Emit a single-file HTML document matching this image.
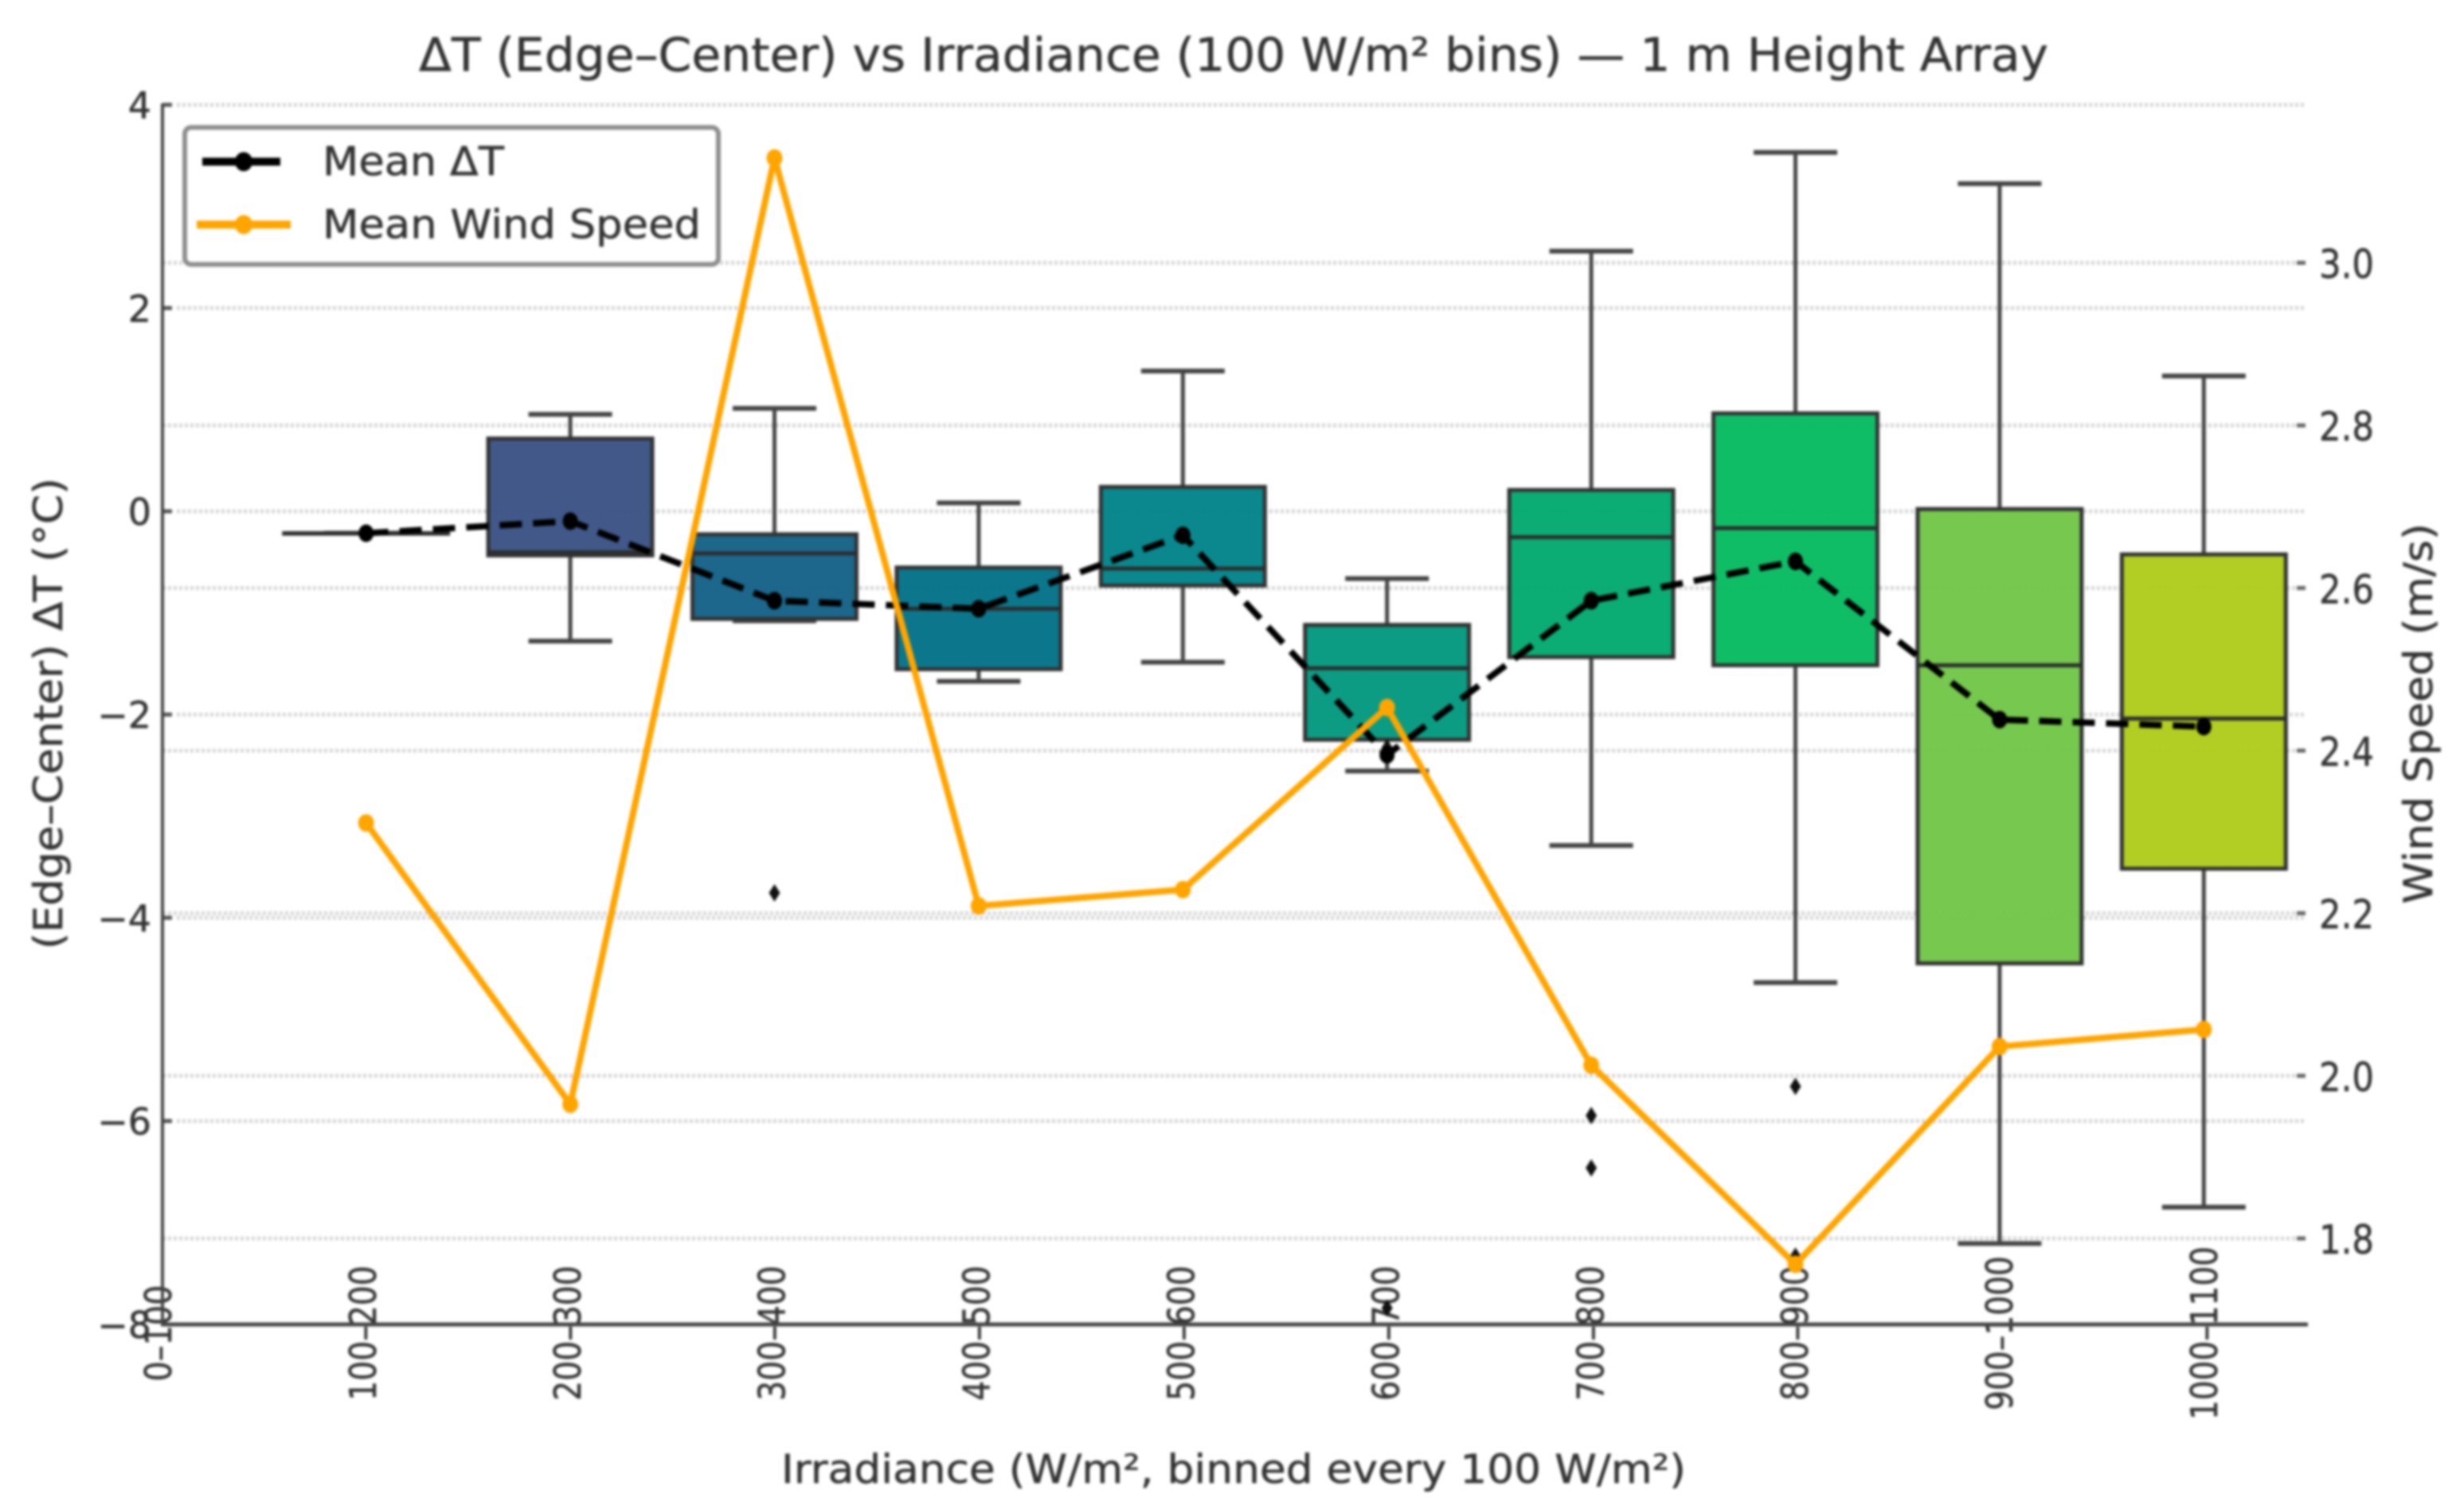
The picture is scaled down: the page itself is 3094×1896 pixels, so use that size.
<!DOCTYPE html>
<html lang="en">
<head>
<meta charset="utf-8">
<title>ΔT vs Irradiance box plot</title>
<style>
html,body{margin:0;padding:0;background:#fff;}
body{width:3094px;height:1896px;overflow:hidden;}
svg{display:block;filter:blur(1.5px);}
text{font-family:"DejaVu Sans","Liberation Sans",sans-serif;fill:#333;stroke:#333;stroke-width:0.5px;}
</style>
</head>
<body>
<svg id="chart" xmlns="http://www.w3.org/2000/svg" width="3094" height="1896" viewBox="0 0 3094 1896">
  <rect x="0" y="0" width="3094" height="1896" fill="#ffffff"/>
  <text x="526" y="89" font-size="58" textLength="2046" lengthAdjust="spacingAndGlyphs">ΔT (Edge–Center) vs Irradiance (100 W/m² bins) — 1 m Height Array</text>
  <text x="981" y="1862" font-size="50" textLength="1136" lengthAdjust="spacingAndGlyphs">Irradiance (W/m², binned every 100 W/m²)</text>
  <text transform="translate(78,1192) rotate(-90)" x="0" y="0" font-size="50" textLength="592" lengthAdjust="spacingAndGlyphs">(Edge–Center) ΔT (°C)</text>
  <text transform="translate(3054,1135) rotate(-90)" x="0" y="0" font-size="50" textLength="478" lengthAdjust="spacingAndGlyphs">Wind Speed (m/s)</text>
  <g id="grid"></g>
  <g id="xlabels"></g>
  <g id="ylabels"></g>
  <g id="boxes"></g>
  <line x1="204" y1="130" x2="204" y2="1665" stroke="#444" stroke-width="4"/>
  <line x1="202" y1="1663" x2="2898" y2="1663" stroke="#444" stroke-width="5"/>
  <g id="series"></g>
  <g>
    <rect x="232" y="160" width="670" height="172" rx="8" ry="8" fill="#ffffff" fill-opacity="0.9" stroke="#8e8e8e" stroke-width="6"/>
    <line x1="254" y1="203" x2="352" y2="203" stroke="#000" stroke-width="10"/>
    <ellipse cx="306" cy="203" rx="11" ry="12" fill="#000"/>
    <text x="405" y="220" font-size="50" textLength="228" lengthAdjust="spacingAndGlyphs">Mean ΔT</text>
    <line x1="247" y1="282" x2="365" y2="282" stroke="#ffa500" stroke-width="10"/>
    <ellipse cx="306" cy="282" rx="11" ry="12" fill="#ffa500"/>
    <text x="405" y="299" font-size="50" textLength="475" lengthAdjust="spacingAndGlyphs">Mean Wind Speed</text>
  </g>
</svg>
<script>
const categories = ["0–100","100–200","200–300","300–400","400–500","500–600","600–700","700–800","800–900","900–1000","1000–1100"];
const whiskerHigh = [null,-0.216,0.954,1.013,0.082,1.380,-0.662,2.560,3.532,3.224,1.331];
const q3Values = [null,-0.216,0.716,-0.226,-0.553,0.240,-1.118,0.210,0.964,0.022,-0.424];
const medianValues = [null,-0.216,-0.404,-0.414,-0.959,-0.563,-1.544,-0.255,-0.166,-1.515,-2.040];
const q1Values = [null,-0.216,-0.434,-1.059,-1.554,-0.731,-2.248,-1.435,-1.515,-4.449,-3.517];
const whiskerLow = [null,-0.216,-1.277,-1.078,-1.673,-1.485,-2.556,-3.289,-4.638,-7.205,-6.848];
const outliers = [[],[],[],[-3.755],[],[],[-2.327,-7.84],[-5.946,-6.462],[-5.659,-7.33],[],[]];
const meanDeltaT = [null,-0.216,-0.097,-0.880,-0.959,-0.236,-2.397,-0.880,-0.493,-2.050,-2.119];
const meanWindSpeed = [null,2.311,1.965,3.129,2.209,2.229,2.453,2.013,1.768,2.036,2.057];
const leftTicks = [4,2,0,-2,-4,-6,-8];
const rightTicks = [3.0,2.8,2.6,2.4,2.2,2.0,1.8];
const boxColors = [null,"#3b5385","#3b5385","#156287","#047388","#028489","#04997f","#04a971","#08bb62","#72c649","#b0cb1c"];

const NS = "http://www.w3.org/2000/svg";
function xPos(i){ return 203.3 + i * 256.4; }
function xLabelPos(i){ return 199 + i * 256.9; }
function yLeft(v){ return 642 - v * 127.6; }
function yRight(v){ return 330 + (3 - v) * 1020.8; }
function mk(tag, attrs, parent){
  const el = document.createElementNS(NS, tag);
  for (const k in attrs) el.setAttribute(k, attrs[k]);
  parent.appendChild(el);
  return el;
}
const grid = document.getElementById("grid");
const xlabels = document.getElementById("xlabels");
const ylabels = document.getElementById("ylabels");
const boxes = document.getElementById("boxes");
const series = document.getElementById("series");
const gridStyle = {stroke:"#d6d6d6","stroke-width":5,"stroke-dasharray":"4 3"};

leftTicks.forEach(function(t){
  const y = yLeft(t);
  if (t !== -8) {
    const g = mk("line", Object.assign({x1:222,x2:2893,y1:y,y2:y}, gridStyle), grid);
    
    
    const m = mk("line", {x1:204,x2:216,y1:y,y2:y,stroke:"#555","stroke-width":5}, ylabels);
    
    
  }
  const lab = mk("text", {x:190,y:y+17,"font-size":46,"text-anchor":"end"}, ylabels);
  lab.textContent = String(t).replace("-", "−");
  
  
});
rightTicks.forEach(function(t){
  const y = yRight(t);
  const g = mk("line", Object.assign({x1:204,x2:2882,y1:y,y2:y}, gridStyle), grid);
  
  
  const m = mk("line", {x1:2884,x2:2895,y1:y,y2:y,stroke:"#666","stroke-width":5}, ylabels);
  
  
  const lab = mk("text", {x:2912,y:y+19,"font-size":50,textLength:69,lengthAdjust:"spacingAndGlyphs"}, ylabels);
  lab.textContent = t.toFixed(1);
  
  
});
categories.forEach(function(c, i){
  const x = xLabelPos(i) + 16;
  const lab = mk("text", {transform:"translate("+x+",1674) rotate(-90)",x:0,y:0,"font-size":46,"text-anchor":"middle",textLength:c.length*24.2,lengthAdjust:"spacingAndGlyphs"}, xlabels);
  lab.textContent = c;
  
  
});

const boxW = 206, capW = 105;
categories.forEach(function(c, i){
  if (q1Values[i] === null) return;
  const x = xPos(i);
  const whiskerUp = mk("line", {x1:x,x2:x,y1:yLeft(whiskerHigh[i]),y2:yLeft(q3Values[i]),stroke:"#444","stroke-width":5}, boxes);
  
  
  const whiskerDown = mk("line", {x1:x,x2:x,y1:yLeft(q1Values[i]),y2:yLeft(whiskerLow[i]),stroke:"#444","stroke-width":5}, boxes);
  
  
  const capUp = mk("line", {x1:x-capW/2,x2:x+capW/2,y1:yLeft(whiskerHigh[i]),y2:yLeft(whiskerHigh[i]),stroke:"#444","stroke-width":6}, boxes);
  
  
  const capDown = mk("line", {x1:x-capW/2,x2:x+capW/2,y1:yLeft(whiskerLow[i]),y2:yLeft(whiskerLow[i]),stroke:"#444","stroke-width":6}, boxes);
  
  
  const top = yLeft(q3Values[i]), bot = yLeft(q1Values[i]);
  const rect = mk("rect", {x:x-boxW/2,y:top,width:boxW,height:Math.max(bot-top,0.5),fill:boxColors[i],"fill-opacity":0.97,stroke:"#333","stroke-width":5}, boxes);
  
  
  const med = mk("line", {x1:x-boxW/2,x2:x+boxW/2,y1:yLeft(medianValues[i]),y2:yLeft(medianValues[i]),stroke:"#2d2d2d","stroke-width":5}, boxes);
  
  
  outliers[i].forEach(function(v){
    const y = yLeft(v);
    const d = mk("polygon", {points:[x,y-11,x+7,y,x,y+11,x-7,y].join(","),fill:"#111"}, boxes);
    
    
  });
});

function linePoints(values, yFn){
  const pts = [];
  values.forEach(function(v, i){ if (v !== null) pts.push(xPos(i) + "," + yFn(v)); });
  return pts.join(" ");
}
const meanLine = mk("polyline", {points:linePoints(meanDeltaT,yLeft),fill:"none",stroke:"#000","stroke-width":8,"stroke-dasharray":"28 14"}, series);


meanDeltaT.forEach(function(v, i){
  if (v === null) return;
  const p = mk("ellipse", {cx:xPos(i),cy:yLeft(v),rx:9.5,ry:11,fill:"#000"}, series);
  
  
});
const windLine = mk("polyline", {points:linePoints(meanWindSpeed,yRight),fill:"none",stroke:"#ffa500","stroke-width":8,"stroke-linejoin":"round"}, series);


meanWindSpeed.forEach(function(v, i){
  if (v === null) return;
  const p = mk("ellipse", {cx:xPos(i),cy:yRight(v),rx:10,ry:11,fill:"#ffa500"}, series);
  
  
});
</script>
</body>
</html>
